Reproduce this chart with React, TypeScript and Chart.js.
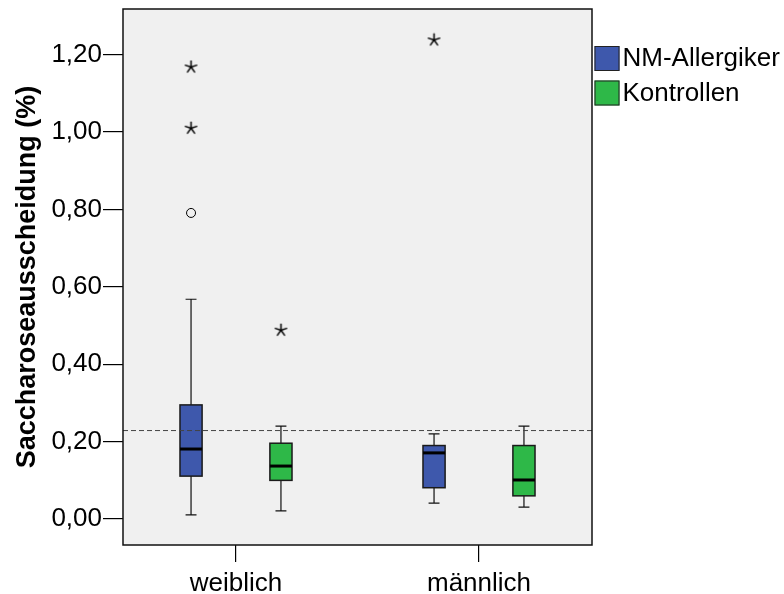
import React, { useEffect, useRef } from 'react';
import { Chart, registerables } from 'chart.js';

Chart.register(...registerables);

// ---- data ----
const categories = ['weiblich', 'männlich'];
const seriesNames = ['NM-Allergiker', 'Kontrollen'];
const seriesColors = ['#3e58ac', '#2eb848'];

const nmWhiskerLow = [0.011, 0.041];
const nmQ1 = [0.111, 0.081];
const nmMedian = [0.181, 0.171];
const nmQ3 = [0.295, 0.19];
const nmWhiskerHigh = [0.568, 0.22];

const kWhiskerLow = [0.021, 0.031];
const kQ1 = [0.1, 0.06];
const kMedian = [0.137, 0.101];
const kQ3 = [0.196, 0.19];
const kWhiskerHigh = [0.24, 0.24];

// outliers per category: extreme (star) and mild (circle)
const nmExtremes = [[1.01, 1.168], [1.238]];
const nmMild = [[0.791], []];
const kExtremes = [[0.488], []];
const kMild = [[], []];

const referenceLine = 0.23;
const yTicks = [0, 0.2, 0.4, 0.6, 0.8, 1.0, 1.2];
const yTitle = 'Saccharoseausscheidung (%)';

// ---- layout constants ----
const FONT = "Arial, 'Liberation Sans', sans-serif";
const GROUP_OFFSET = 0.185;
const BOX_HALF = 0.0455;
const CAP_HALF = 0.0225;

const series = [
  { low: nmWhiskerLow, q1: nmQ1, med: nmMedian, q3: nmQ3, high: nmWhiskerHigh, ext: nmExtremes, mild: nmMild },
  { low: kWhiskerLow, q1: kQ1, med: kMedian, q3: kQ3, high: kWhiskerHigh, ext: kExtremes, mild: kMild },
];

const xPos = (ci: number, si: number) => ci + 1 + (si === 0 ? -GROUP_OFFSET : GROUP_OFFSET);

function makeStar(): HTMLCanvasElement {
  const c = document.createElement('canvas');
  c.width = 15;
  c.height = 15;
  const g = c.getContext('2d')!;
  g.strokeStyle = '#000';
  g.lineWidth = 1.5;
  g.lineCap = 'round';
  const cx = 7.5, cy = 7.5, r = 6;
  for (let i = 0; i < 5; i++) {
    const a = -Math.PI / 2 + (i * 2 * Math.PI) / 5;
    g.beginPath();
    g.moveTo(cx, cy);
    g.lineTo(cx + r * Math.cos(a), cy + r * Math.sin(a));
    g.stroke();
  }
  return c;
}

const boxPlugin = {
  id: 'boxPlugin',
  beforeDatasetsDraw(chart: any) {
    const { ctx, chartArea: a, scales } = chart;
    const x = scales.x, y = scales.y;
    ctx.save();
    ctx.fillStyle = '#f0f0f0';
    ctx.fillRect(a.left, a.top, a.right - a.left, a.bottom - a.top);

    series.forEach((s, si) => {
      categories.forEach((_, ci) => {
        const xc = x.getPixelForValue(xPos(ci, si));
        const xl = x.getPixelForValue(xPos(ci, si) - BOX_HALF);
        const xr = x.getPixelForValue(xPos(ci, si) + BOX_HALF);
        const cl = x.getPixelForValue(xPos(ci, si) - CAP_HALF);
        const cr = x.getPixelForValue(xPos(ci, si) + CAP_HALF);
        const yLow = y.getPixelForValue(s.low[ci]);
        const yQ1 = y.getPixelForValue(s.q1[ci]);
        const yMed = y.getPixelForValue(s.med[ci]);
        const yQ3 = y.getPixelForValue(s.q3[ci]);
        const yHigh = y.getPixelForValue(s.high[ci]);

        ctx.strokeStyle = '#111';
        ctx.lineWidth = 1.2;
        ctx.beginPath();
        ctx.moveTo(xc, yQ1); ctx.lineTo(xc, yLow);
        ctx.moveTo(cl, yLow); ctx.lineTo(cr, yLow);
        ctx.moveTo(xc, yQ3); ctx.lineTo(xc, yHigh);
        ctx.moveTo(cl, yHigh); ctx.lineTo(cr, yHigh);
        ctx.stroke();

        ctx.fillStyle = seriesColors[si];
        ctx.fillRect(xl, yQ3, xr - xl, yQ1 - yQ3);
        ctx.strokeStyle = '#1a1a1a';
        ctx.lineWidth = 1.5;
        ctx.strokeRect(xl, yQ3, xr - xl, yQ1 - yQ3);

        ctx.strokeStyle = '#000';
        ctx.lineWidth = 3;
        ctx.beginPath();
        ctx.moveTo(xl, yMed); ctx.lineTo(xr, yMed);
        ctx.stroke();
      });
    });

    const yr = y.getPixelForValue(referenceLine);
    ctx.strokeStyle = '#444';
    ctx.lineWidth = 1;
    ctx.setLineDash([5, 3]);
    ctx.beginPath();
    ctx.moveTo(a.left, yr + 0.5);
    ctx.lineTo(a.right, yr + 0.5);
    ctx.stroke();
    ctx.restore();
  },
  afterDraw(chart: any) {
    const { ctx, chartArea: a } = chart;
    ctx.save();
    ctx.strokeStyle = '#111';
    ctx.lineWidth = 1.5;
    ctx.strokeRect(a.left, a.top, a.right - a.left, a.bottom - a.top);

    // legend
    const lx = a.right + 2.5;
    seriesNames.forEach((name, i) => {
      const ly = 46 + i * 34.5;
      ctx.fillStyle = seriesColors[i];
      ctx.fillRect(lx, ly, 25, 25);
      ctx.strokeStyle = '#222';
      ctx.lineWidth = 1;
      ctx.strokeRect(lx + 0.5, ly + 0.5, 24, 24);
      ctx.fillStyle = '#000';
      ctx.font = `26px ${FONT}`;
      ctx.textBaseline = 'middle';
      ctx.textAlign = 'left';
      ctx.fillText(name, lx + 28, ly + 13);
    });
    ctx.restore();
  },
};

export default function App() {
  const ref = useRef<HTMLCanvasElement>(null);
  useEffect(() => {
    const star = makeStar();
    const extremeData: { x: number; y: number }[] = [];
    const mildData: { x: number; y: number }[] = [];
    series.forEach((s, si) => {
      categories.forEach((_, ci) => {
        s.ext[ci].forEach((v) => extremeData.push({ x: xPos(ci, si), y: v }));
        s.mild[ci].forEach((v) => mildData.push({ x: xPos(ci, si), y: v }));
      });
    });

    const chart = new Chart(ref.current!, {
      type: 'scatter',
      data: {
        datasets: [
          {
            label: 'extreme',
            data: extremeData,
            pointStyle: star as any,
            pointRadius: 7,
          },
          {
            label: 'mild',
            data: mildData,
            pointStyle: 'circle',
            pointRadius: 4.5,
            borderColor: '#000',
            borderWidth: 1,
            backgroundColor: 'rgba(0,0,0,0)',
          },
        ],
      },
      options: {
        responsive: false,
        animation: false,
        layout: { padding: { top: 9, right: 192, left: 0, bottom: 0 } },
        plugins: { legend: { display: false }, tooltip: { enabled: false } },
        scales: {
          x: {
            type: 'linear',
            min: 0.535,
            max: 2.465,
            afterFit: (s: any) => { s.height = 49; s.paddingLeft = 0; s.paddingRight = 0; },
            afterBuildTicks: (s: any) => { s.ticks = categories.map((_, i) => ({ value: i + 1 })); },
            grid: { drawOnChartArea: false, drawTicks: true, tickLength: 17, color: '#000', lineWidth: 1.2 },
            border: { display: false },
            ticks: {
              color: '#000',
              font: { size: 26, family: FONT },
              padding: 6,
              callback: (v: any) => categories[Math.round(Number(v)) - 1] ?? '',
            },
          },
          y: {
            type: 'linear',
            min: -0.067,
            max: 1.318,
            afterFit: (s: any) => { s.width = 123; s.paddingTop = 0; s.paddingBottom = 0; },
            afterBuildTicks: (s: any) => { s.ticks = yTicks.map((v) => ({ value: v })); },
            grid: { drawOnChartArea: false, drawTicks: true, tickLength: 20, color: '#000', lineWidth: 1.2 },
            border: { display: false },
            title: {
              display: true,
              text: yTitle,
              color: '#000',
              font: { size: 27, weight: 'bold', family: FONT },
              padding: { top: 11, bottom: 0 },
            },
            ticks: {
              color: '#000',
              font: { size: 26, family: FONT },
              padding: 1,
              callback: (v: any) => Number(v).toFixed(2).replace('.', ','),
            },
          },
        },
      },
      plugins: [boxPlugin],
    });
    return () => chart.destroy();
  }, []);

  return (
    <div style={{ position: 'absolute', left: 0, top: 0, width: 784, height: 594, background: '#fff' }}>
      <canvas ref={ref} width={784} height={594} />
    </div>
  );
}
